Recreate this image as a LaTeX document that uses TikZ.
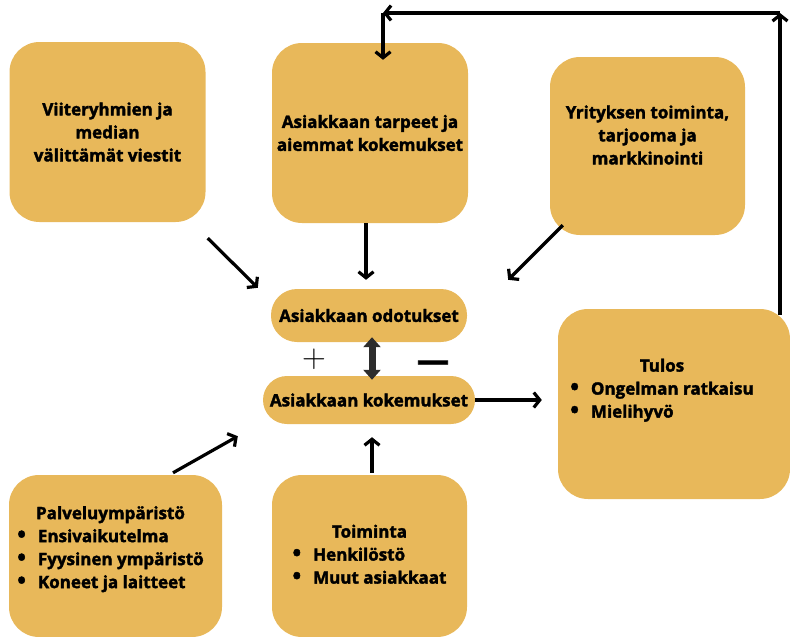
\documentclass[tikz,border=0pt]{standalone}
\usepackage{fontspec}
\setmainfont{Open Sans}[BoldFeatures={FakeBold=2}]
\newfontfamily\lmfont{Latin Modern Roman}
\usetikzlibrary{arrows.meta, positioning}
\definecolor{boxgold}{RGB}{232, 184, 90}
\definecolor{arrowgray}{RGB}{45, 45, 45}
\newcommand{\boxfont}{\bfseries\fontsize{17}{23}\selectfont}
\newcommand{\pallo}{\raisebox{-0.4pt}{\scalebox{1.35}{\textbullet}}}

\begin{document}
\begin{tikzpicture}[x=1pt, y=-1pt,
  box/.style={rectangle, rounded corners=30pt, fill=boxgold, minimum width=196pt, minimum height=180pt,
    align=center, font=\boxfont},
  pill/.style={rectangle, rounded corners=24pt, fill=boxgold, minimum height=48pt, font=\boxfont},
  boxtext/.style={align=center, font=\boxfont},
  arrow/.style={-{Straight Barb[length=6pt, width=15pt]}, line width=3.2pt},
  fatarrow/.style={{Triangle[width=17pt, length=10pt]}-{Triangle[width=17pt, length=10pt]}, line width=7pt, draw=arrowgray}
]
\useasboundingbox (0,0) rectangle (790,637);

% Top row
\node[box] (viite) at (107.5,132) {Viiteryhmien ja\\median\\välittämät viestit};
\node[box] (tarpeet) at (370,133) {Asiakkaan tarpeet ja\\aiemmat kokemukset};
\node[box, minimum width=195pt, minimum height=178pt] (yritys) at (647.5,146) {};
\node[boxtext] (yritysteksti) at ([yshift=11pt]yritys.center) {Yrityksen toiminta,\\tarjooma ja\\markkinointi};

% Middle: expectations vs experiences
\node[pill, minimum width=196pt, minimum height=53pt, rounded corners=26pt] (odotukset) at (369,315.5) {Asiakkaan odotukset};
\node[pill, minimum width=212pt] (kokemukset) at (369,400) {Asiakkaan kokemukset};
\node[font=\lmfont\fontsize{33}{33}\selectfont] (plus) at (314,359.5) {+};
\node[font=\bfseries\fontsize{32}{32}\selectfont] (miinus) at (433,366) {—};

% Result
\node[box, minimum width=232pt, minimum height=190pt] (tulos) at (674,404) {};
\node[boxtext] (tulosteksti) at ([shift={(-12,-14)}]tulos.center)
  {\begin{tabular}{@{}c@{\hspace{12pt}}l@{}}\multicolumn{2}{c}{Tulos}\\ \pallo & Ongelman ratkaisu\\ \pallo & Mielihyvö\end{tabular}};

% Bottom row
\node[box, minimum width=213pt, minimum height=162pt] (palvelu) at (115.5,556) {};
\node[boxtext] (palveluteksti) at ([shift={(-5,-7)}]palvelu.center)
  {\begin{tabular}{@{}c@{\hspace{12pt}}l@{}}\multicolumn{2}{c}{Palveluympäristö}\\ \pallo & Ensivaikutelma\\ \pallo & Fyysinen ympäristö\\ \pallo & Koneet ja laitteet\end{tabular}};
\node[box, minimum width=195pt, minimum height=162pt] (toiminta) at (369.5,556)
  {\begin{tabular}{@{}c@{\hspace{12pt}}l@{}}\multicolumn{2}{c}{Toiminta}\\ \pallo & Henkilöstö\\ \pallo & Muut asiakkaat\end{tabular}};

% Arrows
\draw[arrow] ([shift={(2,16)}]viite.south east) -- ([shift={(-13,-1)}]odotukset.north west);
\draw[arrow] ([shift={(-4,0)}]tarpeet.south) -- ([shift={(-3,-9)}]odotukset.north);
\draw[arrow] ([shift={(13,-10)}]yritys.south west) -- ([shift={(41,-9)}]odotukset.north east);
\draw[fatarrow] ([shift={(3,-5)}]odotukset.south) -- ([shift={(3,4)}]kokemukset.north);
\draw[arrow] (kokemukset.east) -- ([shift={(-16,0)}]tulos.west |- kokemukset.east);
\draw[arrow] ([shift={(57.5,-2)}]palvelu.north) -- ([shift={(-25,12)}]kokemukset.south west);
\draw[arrow] ([shift={(2.5,-2)}]toiminta.north) -- ([shift={(3,13)}]kokemukset.south);

% Feedback loop
\coordinate (kulma1) at (780,13);
\coordinate (kulma2) at (383,13);
\draw[arrow] ([shift={(0,6)}]tulos.north -| kulma1) -- (kulma1);
\draw[arrow] (kulma1) -- (kulma2);
\draw[arrow] (kulma2) -- ([shift={(0,17)}]kulma2 |- tarpeet.north);

\end{tikzpicture}
\end{document}
